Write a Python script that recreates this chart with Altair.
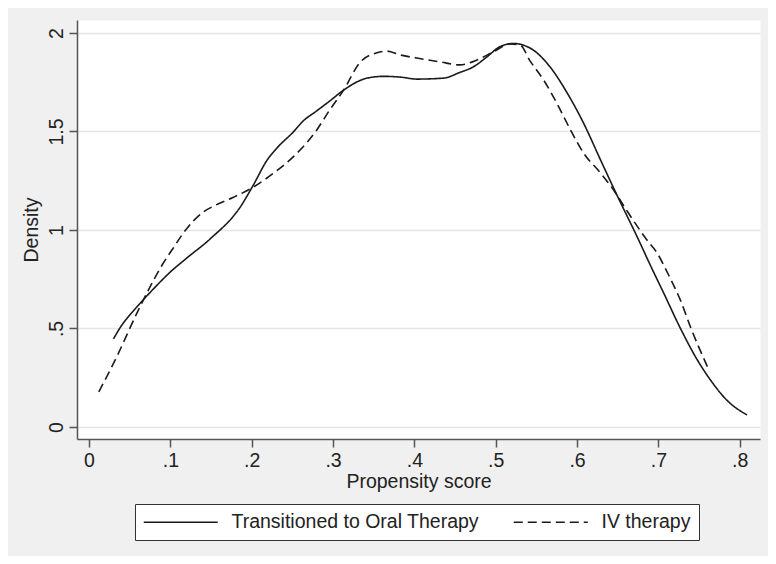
import altair as alt
import pandas as pd

# Series names
series_names = ["Transitioned to Oral Therapy", "IV therapy"]

# Transitioned to Oral Therapy (solid)
oral_x = [0.030, 0.040, 0.050, 0.060, 0.079, 0.100, 0.120, 0.149, 0.186, 0.202,
          0.219, 0.231, 0.251, 0.263, 0.280, 0.296, 0.313, 0.341, 0.362, 0.383,
          0.403, 0.436, 0.456, 0.472, 0.489, 0.505, 0.522, 0.535, 0.546, 0.567,
          0.588, 0.608, 0.629, 0.649, 0.674, 0.692, 0.706, 0.727, 0.748, 0.764,
          0.784, 0.809]
oral_y = [0.447, 0.515, 0.568, 0.615, 0.700, 0.787, 0.857, 0.955, 1.117, 1.228,
          1.355, 1.416, 1.497, 1.552, 1.605, 1.655, 1.710, 1.770, 1.780, 1.776,
          1.766, 1.771, 1.800, 1.827, 1.878, 1.930, 1.947, 1.937, 1.914, 1.827,
          1.695, 1.543, 1.355, 1.178, 0.965, 0.805, 0.685, 0.502, 0.340, 0.239,
          0.137, 0.061]

# IV therapy (dashed)
iv_x = [0.012, 0.034, 0.059, 0.075, 0.091, 0.103, 0.116, 0.128, 0.140, 0.155,
        0.177, 0.202, 0.227, 0.251, 0.280, 0.296, 0.313, 0.333, 0.354, 0.366,
        0.383, 0.403, 0.432, 0.456, 0.477, 0.497, 0.518, 0.530, 0.542, 0.559,
        0.575, 0.592, 0.608, 0.629, 0.645, 0.661, 0.686, 0.699, 0.711, 0.727,
        0.741, 0.761]
iv_y = [0.178, 0.356, 0.579, 0.711, 0.830, 0.905, 0.985, 1.045, 1.090, 1.125,
        1.165, 1.218, 1.289, 1.371, 1.508, 1.610, 1.710, 1.850, 1.900, 1.908,
        1.888, 1.873, 1.853, 1.838, 1.863, 1.904, 1.944, 1.939, 1.860, 1.761,
        1.645, 1.508, 1.391, 1.289, 1.203, 1.100, 0.949, 0.880, 0.785, 0.645,
        0.492, 0.300]

# Axis ticks
x_ticks = [0, 0.1, 0.2, 0.3, 0.4, 0.5, 0.6, 0.7, 0.8]
y_ticks = [0, 0.5, 1, 1.5, 2]

df = pd.concat([
    pd.DataFrame({"score": oral_x, "density": oral_y, "series": series_names[0]}),
    pd.DataFrame({"score": iv_x, "density": iv_y, "series": series_names[1]}),
])

FONT = "Liberation Sans"
FS = 19.5
TXT = "#222222"
AX = "#555555"
label_expr = "datum.value > 0 && datum.value < 1 ? slice(format(datum.value, '.1f'), 1) : format(datum.value, '~g')"

chart = alt.Chart(df).mark_line(
    color="#1a1a1a", strokeWidth=1.6, interpolate="monotone"
).encode(
    x=alt.X("score:Q",
            scale=alt.Scale(domain=[-0.0148, 0.825], nice=False, zero=False),
            axis=alt.Axis(title="Propensity score", values=x_ticks, labelExpr=label_expr,
                          grid=False, labelPadding=4, titlePadding=3)),
    y=alt.Y("density:Q",
            scale=alt.Scale(domain=[-0.061, 2.066], nice=False, zero=False),
            axis=alt.Axis(title="Density", values=y_ticks, labelExpr=label_expr,
                          grid=True, gridColor="#e6e6e6", gridWidth=1.5,
                          labelAngle=270, labelAlign="center", labelBaseline="alphabetic",
                          labelPadding=7, titlePadding=5)),
    strokeDash=alt.StrokeDash(
        "series:N",
        scale=alt.Scale(domain=series_names, range=[[1, 0], [9, 5]]),
        legend=alt.Legend(
            title=None, orient="none", legendX=58, legendY=484, direction="horizontal",
            symbolType="M-1,0H7", symbolSize=342, symbolStrokeWidth=1.5,
            symbolStrokeColor="#1a1a1a", symbolFillColor="transparent",
            labelFontSize=FS, labelFont=FONT, labelColor=TXT, labelOffset=68.5,
            labelLimit=400, columnPadding=31, padding=8,
            strokeColor="#333333", fillColor="white",
        ),
    ),
).properties(
    width=683, height=419,
    autosize=alt.AutoSizeParams(type="none"),
    padding={"left": 69, "top": 12, "right": 8, "bottom": 117},
    background="#f0f0f0",
).configure_view(
    fill="white", stroke="transparent"
).configure_axis(
    labelFont=FONT, titleFont=FONT, labelFontSize=FS, titleFontSize=FS,
    labelColor=TXT, titleColor=TXT, titleFontWeight="normal",
    domainColor=AX, domainWidth=1.5, tickColor=AX, tickWidth=1.5, tickSize=8,
)

chart.save("out.html", embed_options={"renderer": "svg", "actions": False})
